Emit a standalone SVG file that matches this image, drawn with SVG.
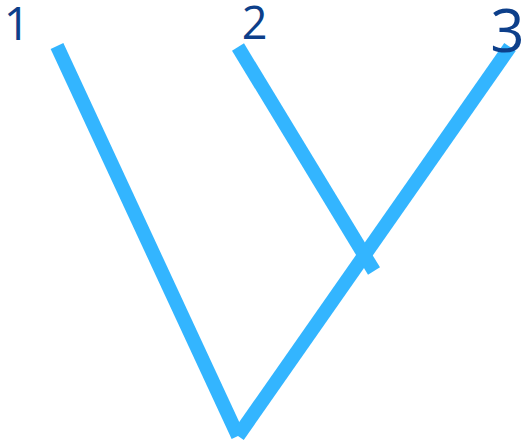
<svg xmlns="http://www.w3.org/2000/svg" width="524" height="446" viewBox="0 0 524 446">
<style>
.edge{stroke:#33b5ff;stroke-width:14;fill:none;stroke-linecap:butt}
.lbl{font-family:"Open Sans","Noto Sans",sans-serif;fill:#0d3f8a;text-anchor:middle}
</style>
<rect width="524" height="446" fill="#ffffff"/>
<g id="connectors">
<line class="edge" x1="57" y1="46" x2="238" y2="436"/>
<line class="edge" x1="510" y1="47" x2="238" y2="436"/>
<line class="edge" x1="238" y1="47" x2="374" y2="271"/>
</g>
<g id="node1"><text class="lbl" x="17" y="40" font-size="46">1</text></g>
<g id="node2"><text class="lbl" x="254.5" y="39" font-size="45">2</text></g>
<g id="node3"><text class="lbl" x="507.5" y="52" font-size="60">3</text></g>
</svg>
